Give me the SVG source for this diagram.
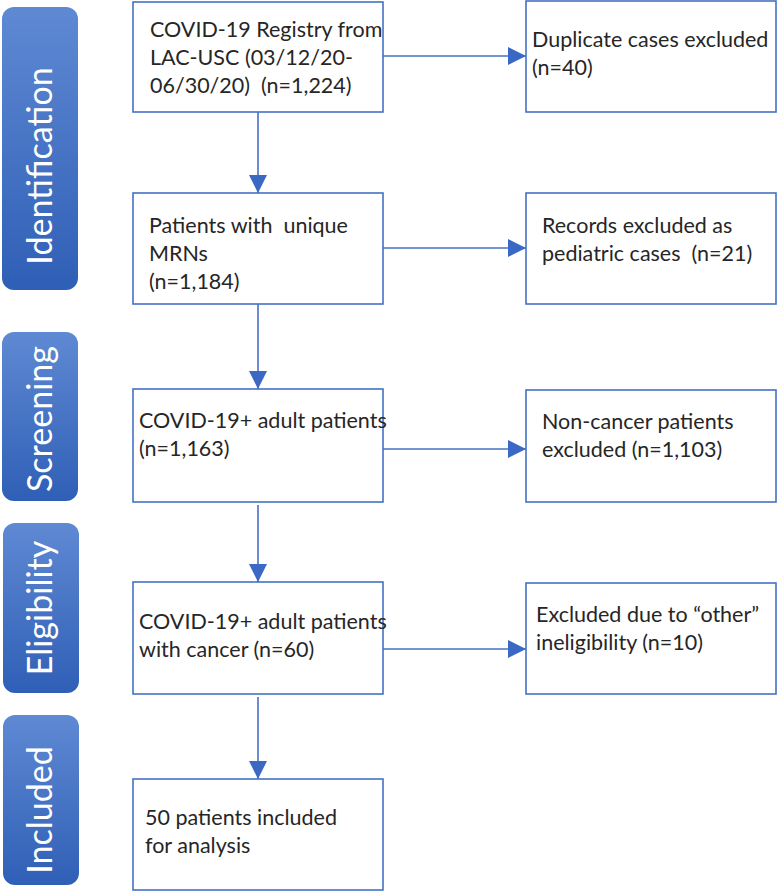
<svg xmlns="http://www.w3.org/2000/svg" width="777" height="891" viewBox="0 0 777 891">
<style>
.box{fill:#fff;stroke:#4472C4;stroke-width:1.6}
.t{font-family:Lato,"Open Sans","Liberation Sans",sans-serif;font-size:21.5px;fill:#262626}
.bar{fill:url(#g)}
.lab{font-family:Lato,"Open Sans","Liberation Sans",sans-serif;font-size:34px;fill:#fff;text-anchor:middle}
.c{stroke:#4472C4;stroke-width:1.6;fill:none}
</style>
<defs>
<linearGradient id="g" x1="0" y1="0" x2="0" y2="1">
<stop offset="0" stop-color="#5f89d3"/>
<stop offset="1" stop-color="#2f5fb6"/>
</linearGradient>
<marker id="a" viewBox="0 0 10 10" refX="10" refY="5" markerWidth="18" markerHeight="19" markerUnits="userSpaceOnUse" orient="auto">
<path d="M0,0 L10,5 L0,10 Z" fill="#3a68c4"/>
</marker>
</defs>
<g id="stage-identification"><rect class="bar" x="2" y="7" width="76" height="283" rx="12"/><text class="lab" transform="translate(52,166) rotate(-90)">Identification</text></g>
<g id="stage-screening"><rect class="bar" x="2" y="332" width="76" height="169" rx="12"/><text class="lab" transform="translate(52,419) rotate(-90)">Screening</text></g>
<g id="stage-eligibility"><rect class="bar" x="3" y="523" width="76" height="170" rx="12"/><text class="lab" transform="translate(52,608) rotate(-90)">Eligibility</text></g>
<g id="stage-included"><rect class="bar" x="3" y="715" width="76" height="170" rx="12"/><text class="lab" transform="translate(52,810) rotate(-90)">Included</text></g>

<g id="connectors">
<line class="c" x1="258" y1="112" x2="258" y2="193" marker-end="url(#a)"/>
<line class="c" x1="258" y1="304" x2="258" y2="389" marker-end="url(#a)"/>
<line class="c" x1="258" y1="505" x2="258" y2="582" marker-end="url(#a)"/>
<line class="c" x1="258" y1="697" x2="258" y2="779" marker-end="url(#a)"/>
<line class="c" x1="383" y1="56" x2="526" y2="56" marker-end="url(#a)"/>
<line class="c" x1="383" y1="248" x2="526" y2="248" marker-end="url(#a)"/>
<line class="c" x1="383" y1="449" x2="526" y2="449" marker-end="url(#a)"/>
<line class="c" x1="383" y1="649" x2="526" y2="649" marker-end="url(#a)"/>
</g>

<g id="n1"><rect class="box" x="133" y="2" width="250" height="110"/>
<text class="t" x="150" y="37">COVID-19 Registry from</text>
<text class="t" x="150" y="65">LAC-USC (03/12/20-</text>
<text class="t" x="150" y="93" xml:space="preserve">06/30/20)  (n=1,224)</text></g>
<g id="n2"><rect class="box" x="133" y="193" width="250" height="111"/>
<text class="t" x="149" y="233" xml:space="preserve">Patients with  unique</text>
<text class="t" x="149" y="261">MRNs</text>
<text class="t" x="149" y="289">(n=1,184)</text></g>
<g id="n3"><rect class="box" x="133" y="389" width="250" height="113"/>
<text class="t" x="139" y="428">COVID-19+ adult patients</text>
<text class="t" x="139" y="456">(n=1,163)</text></g>
<g id="n4"><rect class="box" x="133" y="582" width="250" height="112"/>
<text class="t" x="139" y="629">COVID-19+ adult patients</text>
<text class="t" x="139" y="657">with cancer (n=60)</text></g>
<g id="n5"><rect class="box" x="133" y="779" width="250" height="111"/>
<text class="t" x="145" y="825">50 patients included</text>
<text class="t" x="145" y="853">for analysis</text></g>

<g id="x1"><rect class="box" x="526" y="1" width="250" height="111"/>
<text class="t" x="532" y="47">Duplicate cases excluded</text>
<text class="t" x="532" y="75">(n=40)</text></g>
<g id="x2"><rect class="box" x="526" y="193" width="250" height="111"/>
<text class="t" x="542" y="233">Records excluded as</text>
<text class="t" x="542" y="261" xml:space="preserve">pediatric cases  (n=21)</text></g>
<g id="x3"><rect class="box" x="526" y="390" width="250" height="112"/>
<text class="t" x="542" y="429">Non-cancer patients</text>
<text class="t" x="542" y="457">excluded (n=1,103)</text></g>
<g id="x4"><rect class="box" x="526" y="583" width="250" height="111"/>
<text class="t" x="536" y="622">Excluded due to “other”</text>
<text class="t" x="536" y="650">ineligibility (n=10)</text></g>
</svg>
